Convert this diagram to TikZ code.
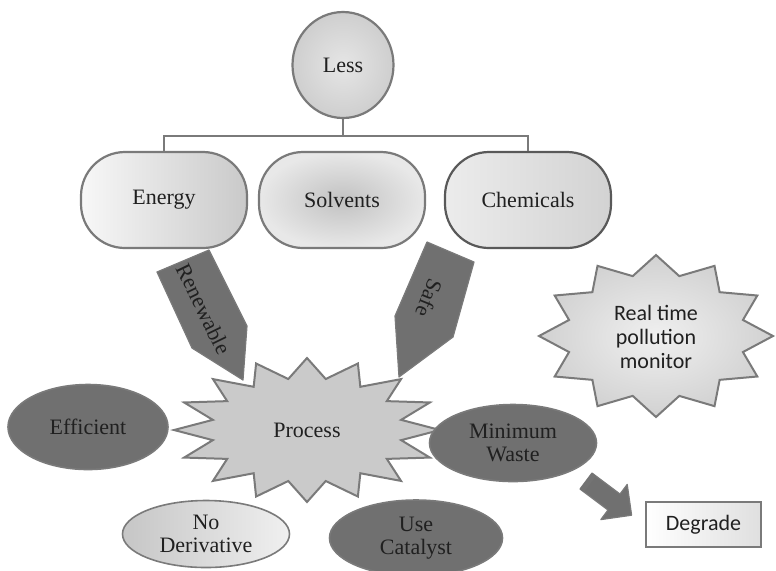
\documentclass[tikz,border=0pt]{standalone}
\usepackage{fontspec}
\setmainfont{Liberation Serif}
\newfontfamily\serifx{Liberation Serif}
\newfontfamily\calib{Carlito}
\usetikzlibrary{shapes.geometric}
\definecolor{edgec}{HTML}{7A7A7A}
\definecolor{darkc}{HTML}{707070}
\definecolor{burstc}{HTML}{CACACA}
\definecolor{txt}{HTML}{202020}
\begin{document}
\begin{tikzpicture}[x=0.5pt,y=-0.5pt,font=\serifx\fontsize{11}{11.5}\selectfont,
  every node/.style={text=txt},
  pill/.style={draw=edgec, line width=1.1pt, rounded corners=22pt, minimum width=83pt, minimum height=48pt},
  darkell/.style={ellipse, draw=edgec, line width=0.8pt, fill=darkc, inner sep=0pt, align=center},
  burst/.style={draw=edgec, line width=1pt, line join=miter},
  blockarrow/.style={fill=darkc, draw=edgec, line width=0.6pt, line join=round},
  link/.style={draw=edgec, line width=0.8pt}]
\useasboundingbox (0,0) rectangle (776,570);
% top
\node[ellipse, draw=edgec, line width=1.1pt, inner color=gray!20, outer color=gray!38,
      minimum width=50.5pt, minimum height=53pt] (less) at (343,65) {Less};
\node[pill, left color=gray!6, right color=gray!42] (energy) at (164,200) {Energy};
\node[pill, inner color=gray!48, outer color=gray!18] (solv) at (342,200) {Solvents};
\node[pill, left color=gray!15, right color=gray!35, draw=gray!70!black] (chem) at (528,200) {Chemicals};
\coordinate (bus) at (346,136);
\draw[link] (less.south) -- (less.south |- bus);
\draw[link] (energy.north) -- (energy.north |- bus) -- (chem.north |- bus) -- (chem.north);
% block arrows into process
\draw[blockarrow] (157,272) -- (209,250) -- (247,326) -- (243,380) -- (192,348) -- cycle;
\node[rotate=-64] (renew) at (204,309) {Renewable};
\draw[blockarrow] (427,242) -- (474,262) -- (453,337) -- (399,377) -- (395,316) -- cycle;
\node[rotate=-112] (safe) at (429,298) {Safe};
% starburst: Process (16 points)
\draw[burst, fill=burstc] plot[samples at={0,...,31}, variable=\k]
  ({307 + (mod(\k,2)==0 ? 133 : 96)*cos(\k*11.25)}, {430 - (mod(\k,2)==0 ? 72 : 52)*sin(\k*11.25)}) -- cycle;
\node (proc) at (307,430) {Process};
% starburst: monitor (12 points)
\draw[burst, inner color=gray!12, outer color=gray!36] plot[samples at={0,...,23}, variable=\k]
  ({656 + (mod(\k,2)==0 ? 117 : 90)*cos(\k*15)}, {336 - (mod(\k,2)==0 ? 81 : 62)*sin(\k*15)}) -- cycle;
\node[align=center, font=\calib\fontsize{11}{11.8}\selectfont] (mon) at (656,337) {Real time\\pollution\\monitor};
% ellipses
\node[darkell, minimum width=80pt, minimum height=42.5pt] (eff) at (88,427) {Efficient};
\node[darkell, minimum width=83.5pt, minimum height=38.5pt] (minw) at (513,443) {Minimum\\Waste};
\node[ellipse, draw=edgec, line width=0.8pt, inner sep=0pt, align=center, left color=gray!45, right color=gray!12,
      minimum width=83.5pt, minimum height=33.5pt] (noder) at (206,534) {No\\Derivative};
\node[darkell, minimum width=86.5pt, minimum height=38pt] (cat) at (416,538) {Use\\Catalyst};
% degrade
\node[draw=edgec, line width=1pt, left color=white, right color=gray!25, minimum width=57.5pt, minimum height=22.5pt,
      font=\calib\fontsize{11}{13}\selectfont] (deg) at (703.5,524.5) {Degrade};
% arrow to degrade
\draw[blockarrow] (592,473) -- (620,494) -- (627.2,484.4) -- (631.6,515.2) -- (600.8,519.6) -- (608,510) -- (580,489) -- cycle;
\fill[black!55] (592,473) -- (596,476) -- (584,492) -- (580,489) -- cycle;
\end{tikzpicture}
\end{document}
